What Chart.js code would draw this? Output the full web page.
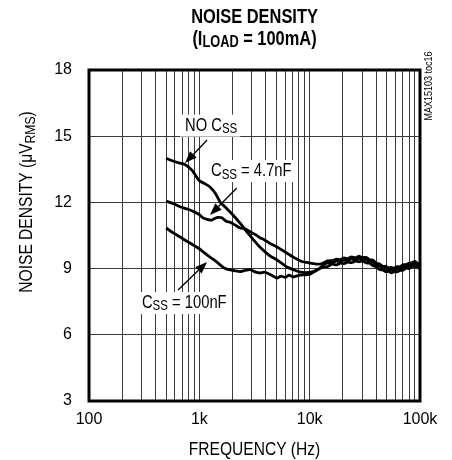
<!DOCTYPE html>
<html>
<head>
<meta charset="utf-8">
<script src="https://cdn.jsdelivr.net/npm/chart.js@4.4.0/dist/chart.umd.min.js"></script>
<style>
  html, body { margin: 0; padding: 0; background: #fff; }
  canvas { display: block; }
</style>
</head>
<body>
<canvas id="chart" width="452" height="460"></canvas>
<script>
// Noise density vs frequency, three soft-start capacitor values
const X_TICKS = [100, 200, 300, 400, 500, 600, 700, 800, 900,
  1000, 2000, 3000, 4000, 5000, 6000, 7000, 8000, 9000,
  10000, 20000, 30000, 40000, 50000, 60000, 70000, 80000, 90000, 100000];
const X_LABELS = { 100: '100', 1000: '1k', 10000: '10k', 100000: '100k' };
const Y_TICKS = [3, 6, 9, 12, 15, 18];

// low frequency part of each curve (Hz, uV)
const NOCSS_FREQ = [500, 560, 640, 740, 860, 1000, 1120, 1250, 1400, 1550, 1750, 2000, 2350, 2700, 3100, 3500, 4300, 5100, 6200, 7100, 8100, 9200, 10500, 12000];
const NOCSS_VAL = [14.0, 13.9, 13.8, 13.72, 13.45, 12.98, 12.85, 12.7, 12.4, 12.0, 11.75, 11.45, 11.05, 10.66, 10.3, 10.0, 9.6, 9.38, 9.07, 8.95, 8.85, 8.82, 8.85, 8.98];

const C47_FREQ = [500, 580, 670, 780, 910, 1000, 1080, 1200, 1300, 1380, 1480, 1600, 1750, 1900, 2100, 2340, 2600, 2900, 3200, 3540, 3900, 4300, 5060, 6000, 7100, 8500, 10100, 11700];
const C47_VAL = [12.06, 11.95, 11.8, 11.7, 11.56, 11.45, 11.3, 11.22, 11.2, 11.27, 11.32, 11.3, 11.15, 11.1, 10.98, 10.84, 10.8, 10.66, 10.55, 10.4, 10.3, 10.16, 9.98, 9.75, 9.52, 9.32, 9.25, 9.2];

const C100_FREQ = [500, 580, 670, 780, 880, 1000, 1120, 1250, 1400, 1550, 1700, 1900, 2100, 2340, 2600, 2900, 3200, 3540, 3900, 4200, 4600, 5060, 5500, 6000, 6500, 7100, 8100, 9200, 10100, 11200];
const C100_VAL = [10.84, 10.62, 10.43, 10.22, 10.07, 9.9, 9.7, 9.52, 9.35, 9.16, 9.02, 8.94, 8.9, 8.86, 8.92, 8.95, 8.85, 8.8, 8.84, 8.78, 8.68, 8.57, 8.66, 8.6, 8.7, 8.62, 8.7, 8.72, 8.75, 8.88];

// above ~13kHz the three noisy curves run together as one thick band
const BAND_FREQ = [13000, 14500, 16000, 17500, 19000, 20500, 22000, 24000, 26000, 28000, 30000, 32500, 35000, 37500, 40000, 43000, 46000, 49000, 52000, 55000, 58000, 62000, 66000, 70000, 75000, 80000, 85000, 90000, 95000, 100000];
const C47_BAND = [9.23, 9.35, 9.36, 9.43, 9.41, 9.48, 9.45, 9.53, 9.50, 9.56, 9.50, 9.51, 9.40, 9.38, 9.24, 9.21, 9.10, 9.11, 9.03, 9.06, 9.01, 9.09, 9.08, 9.18, 9.18, 9.25, 9.26, 9.33, 9.23, 9.23];
const NOCSS_BAND = [9.12, 9.26, 9.24, 9.35, 9.29, 9.40, 9.33, 9.45, 9.38, 9.48, 9.38, 9.43, 9.28, 9.30, 9.12, 9.13, 8.97, 9.03, 8.90, 8.98, 8.88, 9.02, 8.95, 9.10, 9.05, 9.17, 9.13, 9.25, 9.10, 9.14];
const C100_BAND = [9.05, 9.09, 9.20, 9.17, 9.25, 9.23, 9.29, 9.27, 9.34, 9.31, 9.34, 9.26, 9.24, 9.13, 9.08, 8.96, 8.94, 8.86, 8.87, 8.81, 8.85, 8.85, 8.92, 8.93, 9.02, 9.00, 9.10, 9.08, 9.07, 8.97];

// callouts: text anchor (left edge, data units) and arrow tail -> head
const NOTES = [
  { parts: [{ t: 'NO C' }, { t: 'SS', sub: true }], at: [742, 15.48], from: [1176, 14.83], to: [742, 13.78] },
  { parts: [{ t: 'C' }, { t: 'SS', sub: true }, { t: ' = 4.7nF' }], at: [1276, 13.42], from: [2186, 12.65], to: [1250, 11.43] },
  { parts: [{ t: 'C' }, { t: 'SS', sub: true }, { t: ' = 100nF' }], at: [302, 7.44], from: [641, 8.03], to: [1176, 9.3] }
];

function fontExists(name) {
  const c = document.createElement('canvas').getContext('2d');
  c.font = '40px monospace';
  const w = c.measureText('NOISE DENSITY 100k').width;
  c.font = '40px "' + name + '", monospace';
  return c.measureText('NOISE DENSITY 100k').width !== w;
}
const NARROW = fontExists('Liberation Sans Narrow');
const FAMILY = NARROW ? '"Liberation Sans Narrow", "Liberation Sans", Arial' : '"Liberation Sans", Arial';
const SQUEEZE = NARROW ? 1 : 0.82;

function toPoints(freq, vals) {
  return freq.map((f, i) => ({ x: f, y: vals[i] }));
}

function font(size, bold) {
  return (bold ? 'bold ' : '') + size + 'px ' + FAMILY;
}

function richWidth(ctx, parts, size, bold) {
  let w = 0;
  parts.forEach(p => {
    ctx.font = font(size * (p.sub ? 0.78 : 1), bold);
    w += ctx.measureText(p.t).width;
  });
  return w * SQUEEZE;
}

function drawRich(ctx, parts, x, y, size, bold, align) {
  const w = richWidth(ctx, parts, size, bold) / SQUEEZE;
  ctx.save();
  ctx.translate(x, y);
  ctx.scale(SQUEEZE, 1);
  ctx.fillStyle = '#000';
  ctx.textAlign = 'left';
  ctx.textBaseline = 'middle';
  let cx = align === 'center' ? -w / 2 : align === 'right' ? -w : 0;
  parts.forEach(p => {
    ctx.font = font(size * (p.sub ? 0.78 : 1), bold);
    ctx.fillText(p.t, cx, p.sub ? size * 0.2 : 0);
    cx += ctx.measureText(p.t).width;
  });
  ctx.restore();
}

const LABEL_SIZE = 18;

const paperPlugin = {
  id: 'paper',
  beforeDatasetsDraw(chart) {
    const { ctx, scales: { x, y } } = chart;
    // white boxes behind callout text
    NOTES.forEach(n => {
      const px = x.getPixelForValue(n.at[0]);
      const py = y.getPixelForValue(n.at[1]);
      const w = richWidth(ctx, n.parts, LABEL_SIZE, false);
      ctx.fillStyle = '#fff';
      ctx.fillRect(px - 5, py - 11, w + 8, 22);
    });
  },
  afterDatasetsDraw(chart) {
    const { ctx, scales: { x, y } } = chart;
    NOTES.forEach(n => {
      drawRich(ctx, n.parts, x.getPixelForValue(n.at[0]), y.getPixelForValue(n.at[1]), LABEL_SIZE, false, 'left');
      const x0 = x.getPixelForValue(n.from[0]), y0 = y.getPixelForValue(n.from[1]);
      const x1 = x.getPixelForValue(n.to[0]), y1 = y.getPixelForValue(n.to[1]);
      const a = Math.atan2(y1 - y0, x1 - x0);
      const len = 12, half = 4.5;
      ctx.save();
      ctx.strokeStyle = '#000';
      ctx.fillStyle = '#000';
      ctx.lineWidth = 1.3;
      ctx.beginPath();
      ctx.moveTo(x0, y0);
      ctx.lineTo(x1 - Math.cos(a) * len, y1 - Math.sin(a) * len);
      ctx.stroke();
      ctx.beginPath();
      ctx.moveTo(x1, y1);
      ctx.lineTo(x1 - Math.cos(a) * len - Math.sin(a) * half, y1 - Math.sin(a) * len + Math.cos(a) * half);
      ctx.lineTo(x1 - Math.cos(a) * len + Math.sin(a) * half, y1 - Math.sin(a) * len - Math.cos(a) * half);
      ctx.closePath();
      ctx.fill();
      ctx.restore();
    });
  },
  afterDraw(chart) {
    const { ctx, chartArea: ca } = chart;
    // heavy frame
    ctx.save();
    ctx.strokeStyle = '#000';
    ctx.lineWidth = 3;
    ctx.strokeRect(ca.left, ca.top, ca.right - ca.left, ca.bottom - ca.top);
    ctx.restore();

    const cx = (ca.left + ca.right) / 2;
    drawRich(ctx, [{ t: 'NOISE DENSITY' }], cx, 17, 20, true, 'center');
    drawRich(ctx, [{ t: '(I' }, { t: 'LOAD', sub: true }, { t: ' = 100mA)' }], cx, 39, 20, true, 'center');
    drawRich(ctx, [{ t: 'FREQUENCY (Hz)' }], cx, 450, 19, false, 'center');

    ctx.save();
    ctx.translate(27, 202);
    ctx.rotate(-Math.PI / 2);
    drawRich(ctx, [{ t: 'NOISE DENSITY (\u03bcV' }, { t: 'RMS', sub: true }, { t: ')' }], 0, 0, 19, false, 'center');
    ctx.restore();

    ctx.save();
    ctx.translate(429, 86);
    ctx.rotate(-Math.PI / 2);
    drawRich(ctx, [{ t: 'MAX15103 toc16' }], 0, 0, 11, false, 'center');
    ctx.restore();
  }
};

const lineStyle = {
  borderColor: '#000',
  borderWidth: 2.8,
  pointRadius: 0,
  fill: false,
  tension: 0.15,
  showLine: true
};

new Chart(document.getElementById('chart'), {
  type: 'scatter',
  data: {
    datasets: [
      { label: 'NO CSS', data: toPoints(NOCSS_FREQ.concat(BAND_FREQ), NOCSS_VAL.concat(NOCSS_BAND)), ...lineStyle },
      { label: 'CSS = 4.7nF', data: toPoints(C47_FREQ.concat(BAND_FREQ), C47_VAL.concat(C47_BAND)), ...lineStyle },
      { label: 'CSS = 100nF', data: toPoints(C100_FREQ.concat(BAND_FREQ), C100_VAL.concat(C100_BAND)), ...lineStyle }
    ]
  },
  options: {
    responsive: false,
    animation: false,
    devicePixelRatio: 1,
    layout: { padding: { left: 0, top: 70, right: 32, bottom: 0 } },
    plugins: { legend: { display: false }, tooltip: { enabled: false }, title: { display: false } },
    scales: {
      x: {
        type: 'logarithmic',
        min: 100,
        max: 100000,
        afterBuildTicks: axis => { axis.ticks = X_TICKS.map(v => ({ value: v })); },
        afterFit: axis => { axis.height = 59; },
        grid: { color: '#3a3a3a', lineWidth: 1, drawTicks: false },
        border: { display: false },
        ticks: {
          autoSkip: false,
          maxRotation: 0,
          padding: 9,
          color: '#000',
          font: { family: FAMILY, size: 16 },
          callback: v => X_LABELS[v] || ''
        }
      },
      y: {
        type: 'linear',
        min: 3,
        max: 18,
        afterBuildTicks: axis => { axis.ticks = Y_TICKS.map(v => ({ value: v })); },
        afterFit: axis => { axis.width = 89; },
        grid: { color: '#3a3a3a', lineWidth: 1, drawTicks: false },
        border: { display: false },
        ticks: {
          padding: 17,
          color: '#000',
          font: { family: FAMILY, size: 16 }
        }
      }
    }
  },
  plugins: [paperPlugin]
});
</script>
</body>
</html>
